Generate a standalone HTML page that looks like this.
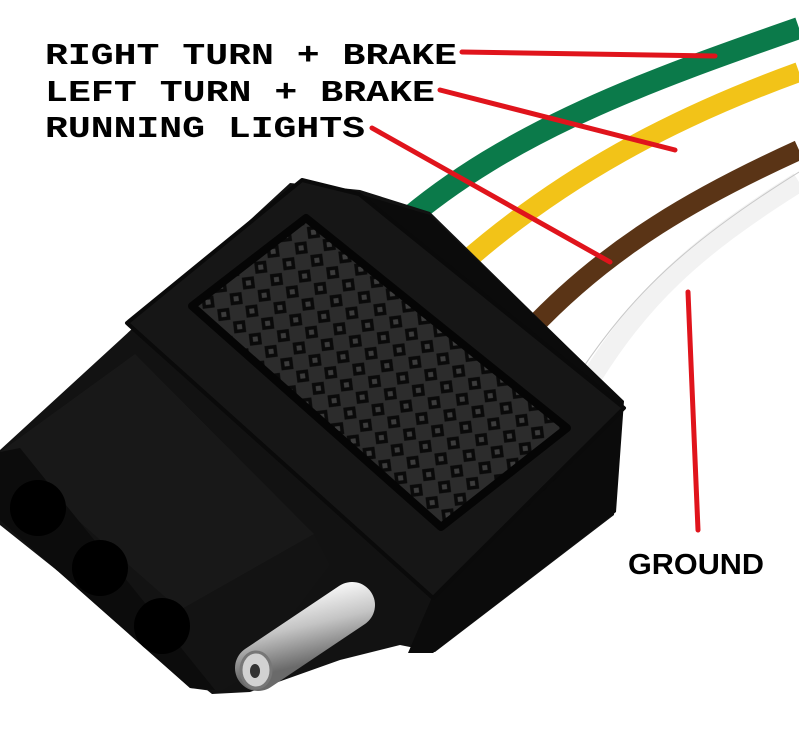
<!DOCTYPE html>
<html><head><meta charset="utf-8"><style>
html,body{margin:0;padding:0;background:#fff;width:799px;height:729px;overflow:hidden}
svg{display:block}
</style></head><body>
<svg width="799" height="729" viewBox="0 0 799 729" xmlns="http://www.w3.org/2000/svg">
<defs>
<pattern id="dia" width="20" height="20" patternUnits="userSpaceOnUse" patternTransform="rotate(38)">
<rect width="20" height="20" fill="#2c2c2c"/>
<rect x="4" y="4" width="12" height="12" fill="#0a0a0a" transform="rotate(45 10 10)"/>
<rect x="7.5" y="7.5" width="5" height="5" fill="#3c3c3c" transform="rotate(45 10 10)"/>
</pattern>
<linearGradient id="pin" x1="0" y1="0" x2="0.35" y2="1">
<stop offset="0" stop-color="#f4f4f4"/><stop offset="0.45" stop-color="#c4c4c4"/><stop offset="1" stop-color="#6a6a6a"/>
</linearGradient>
</defs>
<!-- wires -->
<path d="M400 225 C510 130 650 80 799 28" stroke="#0b7a4a" stroke-width="22" fill="none"/>
<path d="M450 275 C560 175 680 115 799 72" stroke="#f2c318" stroke-width="20" fill="none"/>
<path d="M530 330 C610 245 700 195 799 150" stroke="#5a3416" stroke-width="20" fill="none"/>
<path d="M590 380 C640 300 690 250 799 182" stroke="#f2f2f2" stroke-width="20" fill="none"/>
<path d="M580 372 C632 295 685 243 799 172" stroke="#c8c8c8" stroke-width="1" fill="none"/>
<!-- backing -->
<polygon points="0,450 120,340 290,183 360,190 430,212 622,400 614,515 435,652 400,645 340,660 250,692 212,694 0,525" fill="#121212"/>
<!-- body side face -->
<polygon points="359,194 430,215 624,401 616,512 433,653 408,653 433,595" fill="#0b0b0b"/>
<!-- body top face -->
<polygon points="302,180 359,194 624,408 433,598 127,323" fill="#161616" stroke="#0a0a0a" stroke-width="4" stroke-linejoin="round"/>
<!-- grip panel -->
<polygon points="306,218 567,428 441,527 192,306" fill="url(#dia)" stroke="#050505" stroke-width="8" stroke-linejoin="round"/>
<!-- front block -->
<polygon points="0,452 135,354 314,534 330,565 245,677 220,692 190,688 0,520" fill="#131313"/>
<polygon points="0,452 135,354 314,534 180,610" fill="#181818"/>
<polygon points="0,452 20,448 215,690 190,688 0,520" fill="#0c0c0c"/>
<circle cx="38" cy="508" r="28" fill="#000"/>
<circle cx="100" cy="568" r="28" fill="#000"/>
<circle cx="162" cy="626" r="28" fill="#000"/>
<!-- pin -->
<line x1="258" y1="668" x2="352" y2="605" stroke="url(#pin)" stroke-width="46" stroke-linecap="round"/>
<ellipse cx="256" cy="670" rx="15" ry="18" fill="#d2d2d2" stroke="#777" stroke-width="3"/>
<ellipse cx="255" cy="671" rx="5" ry="7" fill="#333"/>
<!-- red lines -->
<g stroke="#e0141c" stroke-width="5" stroke-linecap="round" fill="none">
<line x1="462" y1="52" x2="715" y2="56"/>
<line x1="440" y1="90" x2="675" y2="150"/>
<line x1="372" y1="128" x2="610" y2="262"/>
<line x1="688" y1="292" x2="698" y2="530"/>
</g>
<!-- labels -->
<g font-family="Liberation Mono, monospace" font-weight="bold" font-size="31" fill="#000">
<text x="45" y="64" textLength="412" lengthAdjust="spacingAndGlyphs">RIGHT TURN + BRAKE</text>
<text x="45" y="101" textLength="390" lengthAdjust="spacingAndGlyphs">LEFT TURN + BRAKE</text>
<text x="45" y="137" textLength="320" lengthAdjust="spacingAndGlyphs">RUNNING LIGHTS</text>
</g>
<text x="628" y="574" font-family="Liberation Sans, sans-serif" font-weight="bold" font-size="29" textLength="136" lengthAdjust="spacingAndGlyphs">GROUND</text>
</svg>
</body></html>
